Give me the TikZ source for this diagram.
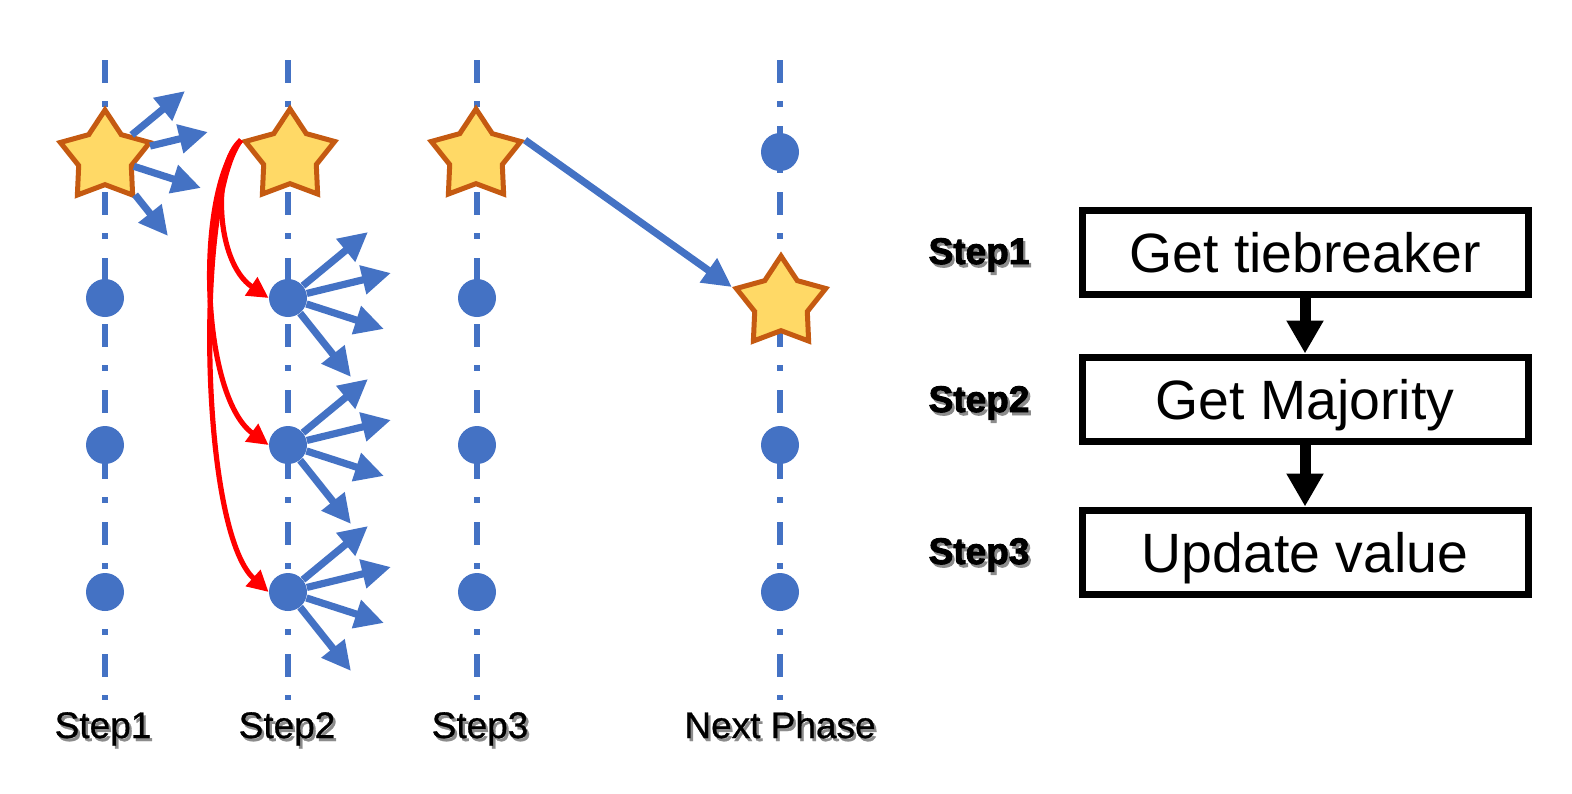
\documentclass[tikz,border=0pt]{standalone}
\usepackage{fontspec}
\setmainfont{Liberation Sans}
\newfontfamily\gras{Liberation Sans Bold}[FakeBold=2.5]
\newfontfamily\demigras{Liberation Sans}[FakeBold=0.8]
\usetikzlibrary{shapes.geometric,arrows.meta}
\definecolor{bleu}{HTML}{4472C4}
\definecolor{jaune}{HTML}{FFD966}
\definecolor{brun}{HTML}{C55A11}
\newcommand\ombre[1]{\rlap{\hspace{1.2pt}\raisebox{-1.5pt}{\textcolor{black!45}{#1}}}#1}
\tikzset{
  axe/.style={bleu,line width=3.25pt,dash pattern=on 11.5pt off 9pt on 3pt off 9.5pt},
  point/.style={circle,fill=bleu,minimum size=19pt,inner sep=0pt},
  etoile/.style={star,star points=5,star point ratio=1.7,fill=jaune,draw=brun,
    line width=2.5pt,minimum size=47pt,inner sep=0pt},
  fleche/.style={bleu,line width=3.6pt,-{Triangle[length=14.5pt,width=14pt]}},
  rouge/.style={red,line width=2.6pt,-{Triangle[length=10.5pt,width=10.5pt]}},
  noire/.style={black,line width=5.5pt,-{Triangle[length=16.5pt,width=17.5pt]}},
  boite/.style={draw,line width=3.5pt,minimum width=223pt,minimum height=42pt,
    inner sep=0pt,font=\fontsize{27.7}{30}\selectfont,text height=20pt,text depth=0pt},
  etape/.style={anchor=base,font=\demigras\fontsize{18.5}{20}\selectfont},
  etapeg/.style={anchor=base,font=\gras\fontsize{18.5}{20}\selectfont},
}
\begin{document}
\begin{tikzpicture}[x=0.5pt,y=-0.5pt]
  \useasboundingbox (0,0) rectangle (1572,793);

  % Axes verticaux
  \foreach \x in {105,288,477,780}
    \draw[axe] (\x,60) -- (\x,700);

  % Points
  \foreach \y [count=\i] in {298,445,592}{
    \node[point] (A\i) at (105,\y) {};
    \node[point] (B\i) at (288,\y) {};
    \node[point] (C\i) at (477,\y) {};
  }
  \node[point] (N1) at (780,152) {};
  \node[point] (N2) at (780,445) {};
  \node[point] (N3) at (780,592) {};

  % Etoiles
  \node[etoile] (S1) at (105,157) {};
  \node[etoile] (S2) at (290,156) {};
  \node[etoile] (S3) at (476,156) {};
  \node[etoile] (S4) at (781,303) {};

  % Gerbes de fleches
  \foreach \n in {S1,B1,B2,B3}
    \foreach \dx/\dy [count=\k] in {80/-66,103/-25,96/31,63/79}{
      \path (\n.center) ++(\dx,\dy) coordinate (\n-\k);
      \draw[fleche] (\n) -- (\n-\k);
    }

  % Fleches rouges
  \draw[rouge] (S2.outer point 2) .. controls (212,165) and (215,262) .. (B1.west);
  \draw[rouge] (S2.outer point 2) .. controls (195,190) and (200,395) .. (B2.west);
  \draw[rouge] (S2.outer point 2) .. controls (195,200) and (200,530) .. (B3.west);

  % Vers la phase suivante
  \draw[fleche] (S3.outer point 5) -- (S4.outer point 2);

  % Etiquettes du bas
  \node[etape] (T1) at (103,738) {\ombre{Step1}};
  \node[etape] (T2) at (287,738) {\ombre{Step2}};
  \node[etape] (T3) at (480,738) {\ombre{Step3}};
  \node[etape] (T4) at (780,738) {\ombre{Next Phase}};

  % Boites
  \node[boite] (E1) at (1305,252) {Get tiebreaker};
  \node[boite] (E2) at (1305,399) {Get Majority};
  \node[boite] (E3) at (1305,552) {Update value};
  \draw[noire] (E1) -- (E2);
  \draw[noire] (E2) -- (E3);

  \node[etapeg] (L1) at (979,264) {\ombre{Step1}};
  \node[etapeg] (L2) at (979,412) {\ombre{Step2}};
  \node[etapeg] (L3) at (979,564) {\ombre{Step3}};
\end{tikzpicture}
\end{document}
